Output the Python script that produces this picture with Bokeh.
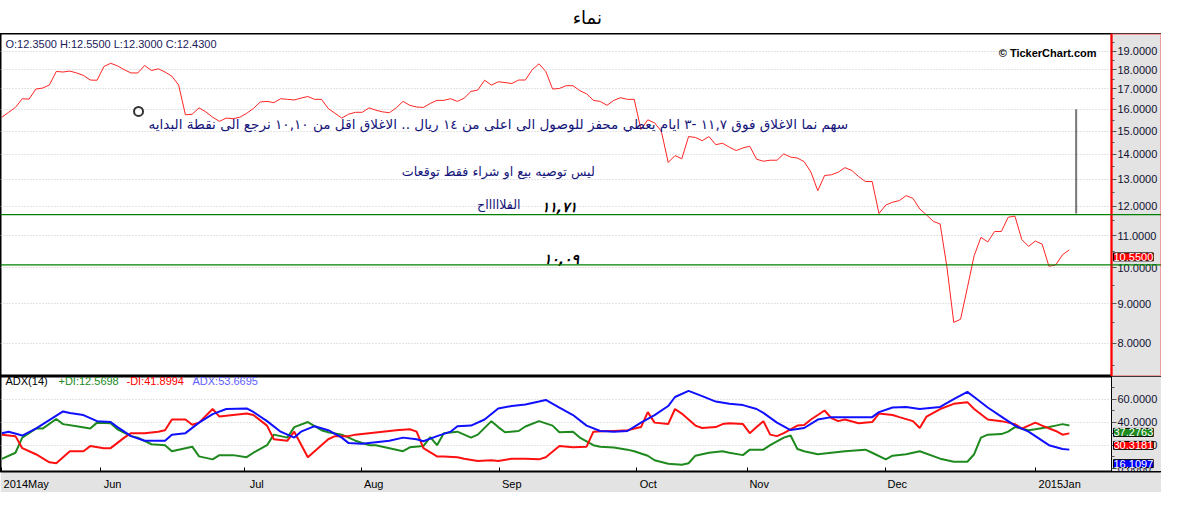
from bokeh.plotting import figure
from bokeh.layouts import column
from bokeh.models import (FixedTicker, Range1d, Label, Span, PrintfTickFormatter, LogAxis,
                          LinearAxis, Grid, BoxAnnotation, LogScale)
from bokeh.core.properties import value
from bokeh.embed import file_html
from bokeh.resources import INLINE

# ---------------- data ----------------
close = [15.63, 15.86, 16.09, 16.51, 16.49, 16.99, 17.04, 17.20, 17.90, 17.87,
         17.92, 17.82, 17.69, 17.45, 17.44, 18.16, 18.34, 18.20, 17.99, 17.82,
         17.82, 18.22, 17.95, 18.04, 17.87, 17.65, 17.19, 15.74, 15.77, 16.07,
         15.88, 15.63, 15.44, 15.59, 15.56, 15.63, 15.81, 16.04, 16.35, 16.38,
         16.32, 16.51, 16.48, 16.45, 16.54, 16.62, 16.48, 16.48, 16.04, 15.81,
         15.59, 15.77, 15.86, 15.86, 16.07, 15.96, 15.88, 15.84, 16.07, 16.38,
         16.19, 16.11, 16.09, 16.28, 16.43, 16.43, 16.51, 16.38, 16.54, 16.87,
         16.94, 17.44, 17.19, 17.36, 17.32, 17.27, 17.45, 17.45, 17.99, 18.31,
         17.90, 16.99, 17.02, 17.16, 17.16, 16.91, 16.75, 16.43, 16.38, 16.19,
         16.43, 16.56, 16.48, 16.48, 15.07, 15.51, 15.37, 14.99, 13.67, 13.95,
         13.82, 14.76, 14.72, 14.58, 14.76, 14.41, 14.47, 14.30, 14.16, 14.27,
         14.34, 13.80, 13.72, 13.76, 13.76, 14.02, 13.89, 13.85, 13.70, 13.28,
         12.57, 13.15, 13.18, 13.28, 13.46, 13.35, 13.11, 12.92, 12.92, 11.75,
         12.05, 12.15, 12.21, 12.39, 12.29, 11.91, 11.70, 11.48, 11.39, 10.02,
         8.51, 8.59, 9.43, 10.37, 10.95, 10.80, 11.14, 11.14, 11.62, 11.66,
         10.88, 10.66, 10.83, 10.73, 10.05, 10.09, 10.40, 10.55]
days = list(range(len(close)))

adx_day = [0, 1, 3, 5, 9, 10, 12, 14, 16, 17, 19, 21, 24, 25, 27, 29, 31, 33, 36, 37,
           39, 41, 43, 44, 46, 48, 50, 51, 53, 55, 57, 59, 61, 62, 64, 66, 67, 69, 71, 73,
           75, 77, 79, 80, 82, 84, 86, 88, 90, 92, 94, 96, 98, 99, 101, 103, 105, 107, 109, 111,
           112, 114, 116, 118, 120, 122, 125, 128, 129, 131, 133, 135, 138, 140, 142, 143, 145,
           147, 149, 151, 152, 154, 156, 157]
adx_val = [30.5, 31.8, 28.4, 34.5, 49.5, 48.1, 46.3, 41.0, 40.2, 35.8, 27.9, 23.9, 23.9,
           29.2, 30.5, 39.7, 47.1, 51.6, 52.1, 49.0, 41.0, 31.8, 26.6, 31.8, 36.6, 33.1,
           26.6, 21.8, 21.3, 22.6, 23.9, 26.6, 25.2, 23.4, 27.9, 31.8, 36.6, 37.1, 42.4,
           52.1, 54.2, 55.5, 58.1, 59.5, 52.9, 46.3, 37.1, 32.4, 31.8, 32.4, 39.7, 46.3,
           54.2, 62.1, 67.4, 62.9, 58.1, 56.1, 55.0, 51.6, 48.2, 39.7, 33.2, 35.0, 42.4,
           44.5, 44.5, 44.5, 48.9, 52.9, 53.4, 51.6, 53.4, 60.3, 66.6, 62.1, 52.9, 45.0,
           37.1, 31.8, 27.9, 20.0, 16.6, 16.1097]

pdi_day = [0, 2, 3, 5, 6, 8, 9, 11, 13, 14, 16, 17, 19, 20, 22, 24, 25, 27, 28, 29,
           31, 32, 34, 36, 37, 39, 40, 42, 43, 45, 47, 48, 50, 52, 54, 55, 57, 59, 60, 62,
           63, 64, 65, 67, 69, 70, 72, 73, 74, 76, 77, 79, 81, 82, 84, 85, 87, 88, 90, 92,
           93, 95, 96, 98, 100, 101, 102, 104, 106, 107, 109, 110, 112, 113, 115, 116, 117,
           118, 120, 122, 124, 127, 128, 130, 131, 133, 135, 138, 140, 142, 143, 144, 145,
           147, 148, 149, 151, 152, 154, 155, 156, 157]
pdi_val = [8.1, 13.4, 26.6, 34.5, 34.5, 42.9, 38.4, 36.6, 34.5, 39.7, 39.2, 33.9, 27.9,
           26.6, 20.8, 20.0, 14.7, 17.4, 18.7, 10.2, 7.6, 11.3, 11.3, 9.5, 13.4, 20.0,
           29.2, 26.6, 35.8, 40.2, 33.1, 31.3, 29.2, 23.9, 20.0, 20.0, 17.4, 14.7, 18.1,
           19.2, 27.1, 20.0, 30.5, 31.8, 26.6, 29.2, 41.0, 35.8, 31.3, 32.4, 36.3, 41.0,
           37.1, 31.3, 31.8, 26.6, 20.0, 18.7, 17.9, 16.1, 14.7, 10.8, 6.8, 3.7, 2.9, 4.2,
           10.8, 13.4, 14.7, 13.4, 11.3, 16.1, 16.1, 20.0, 26.6, 28.4, 16.6, 14.7, 12.1,
           13.4, 14.7, 16.1, 13.4, 7.6, 10.8, 12.1, 14.7, 8.2, 5.5, 5.5, 12.1, 26.6, 29.2,
           29.7, 31.8, 35.8, 33.1, 33.9, 35.8, 37.1, 38.4, 37.2763]

mdi_day = [0, 2, 3, 5, 7, 8, 10, 12, 13, 15, 16, 18, 19, 21, 23, 24, 25, 27, 28, 29,
           31, 32, 34, 36, 37, 39, 40, 42, 43, 45, 47, 48, 49, 51, 52, 54, 56, 58, 60, 61,
           62, 64, 65, 67, 68, 70, 72, 73, 75, 77, 79, 80, 82, 84, 86, 87, 89, 90, 92, 94,
           95, 96, 98, 99, 100, 102, 103, 105, 106, 107, 109, 110, 111, 112, 113, 114, 115,
           117, 118, 119, 121, 122, 123, 124, 126, 128, 129, 131, 132, 134, 135, 136, 138,
           140, 142, 143, 145, 147, 149, 150, 152, 153, 155, 156, 157]
mdi_val = [29.2, 27.9, 17.4, 12.1, 5.0, 4.2, 14.7, 14.7, 19.2, 17.4, 17.4, 26.6, 30.5,
           30.5, 31.8, 33.1, 42.4, 42.4, 37.9, 39.7, 51.6, 45.0, 46.3, 47.6, 46.3, 37.1,
           25.2, 23.9, 31.8, 9.5, 20.0, 25.2, 27.9, 27.9, 29.2, 30.5, 31.8, 33.1, 33.9,
           31.8, 17.4, 10.2, 10.2, 9.5, 8.2, 6.1, 6.8, 6.1, 8.2, 8.2, 7.6, 9.5, 19.2, 18.2,
           18.7, 31.8, 32.4, 32.4, 33.1, 35.8, 48.9, 39.7, 38.4, 51.6, 47.6, 37.1, 35.0,
           35.8, 38.4, 39.2, 38.4, 30.5, 35.8, 41.0, 29.2, 27.9, 30.5, 37.1, 37.6, 42.4,
           50.3, 43.7, 41.0, 42.4, 39.2, 40.2, 47.6, 46.3, 44.5, 41.0, 35.0, 45.0, 51.6,
           56.1, 57.6, 51.6, 42.4, 41.0, 38.4, 34.5, 39.7, 37.1, 32.4, 29.2, 30.3181]

month_pos = [0, 14.5, 35.7, 52.9, 73.2, 93.3, 109.6, 129.9, 152.0]
month_lbl = ["2014May", "Jun", "Jul", "Aug", "Sep", "Oct", "Nov", "Dec", "2015Jan"]

price_ticks = [8, 9, 10, 11, 12, 13, 14, 15, 16, 17, 18, 19]
price_minor = [7.5, 8.5, 9.5, 10.5, 11.5, 12.5, 13.5, 14.5, 15.5, 16.5, 17.5, 18.5, 19.5]
adx_ticks = [0, 20, 40, 60]
adx_minor = [10, 30, 50, 70]

level_hi = 11.71
level_lo = 10.09
marker_day, marker_val = [20.1], [15.9]
vbar_day, vbar_top, vbar_bot = [158], [16.0], [11.75]

notes = ["سهم نما الاغلاق فوق ١١,٧ -٣ ايام يعطي محفز  للوصول الى اعلى من ١٤ ريال .. الاغلاق اقل من ١٠,١٠ نرجع الى نقطة البدايه",
         "ليس توصيه بيع او شراء فقط توقعات",
         "الفلاااااح"]
notes_day = [125.1, 87.2, 76.3]
notes_val = [15.33, 13.32, 12.07]
notes_size = ["13.6px", "12.7px", "12.7px"]
lvl_txt = ["١١,٧١", "١٠,٠٩"]
lvl_day = [84.6, 84.9]
lvl_val = [11.97, 10.28]

header = "O:12.3500  H:12.5500  L:12.3000  C:12.4300"
adx_hdr = ["ADX(14)", "+DI:12.5698", "-DI:41.8994", "ADX:53.6695"]

# ---------------- layout ----------------
W = 1161
AXW = 50                       # width of the right value-axis strip
FW = W - AXW                   # data area width
TITLE_H = 33
PRICE_H = 343
ADX_H = 116
XAX_H = 16
GRAY = "#e3e3e3"
LBL_FONT = "Liberation Sans"
AR_FONT = "DejaVu Sans"

X0, X1 = -0.2, 163.2           # data span of the plotting area
upp = (X1 - X0) / FW           # data units per pixel
AX_X = X1
xr = Range1d(X0, X1 + AXW * upp)

tp = figure(width=W, height=TITLE_H, x_range=(0, 1), y_range=(0, 1), x_axis_type=None,
            y_axis_type=None, toolbar_location=None, output_backend="svg", min_border=0,
            outline_line_color=None)
tp.grid.visible = False
tp.text(x=[0.5 + 21 / W], y=[0.5], text=["نماء"], text_align="right", text_baseline="middle",
        text_font=value(AR_FONT), text_font_size="18px", text_color="black")


def style_value_axis(ax_, line_color, line_width):
    ax_.formatter = PrintfTickFormatter(format="%.4f")
    ax_.axis_line_color = line_color
    ax_.axis_line_width = line_width
    ax_.major_tick_in = 0
    ax_.major_tick_out = 5
    ax_.minor_tick_in = 0
    ax_.minor_tick_out = 3
    ax_.major_tick_line_color = "#555555"
    ax_.minor_tick_line_color = "#555555"
    ax_.major_label_standoff = 1
    ax_.major_label_text_font = LBL_FONT
    ax_.major_label_text_font_size = "11px"
    ax_.major_label_text_color = "#101030"


# ---------- price panel ----------
p = figure(width=W, height=PRICE_H, x_range=xr, y_range=Range1d(7.25, 20.03),
           y_axis_type="log", y_axis_location=None, x_axis_location=None,
           toolbar_location=None, output_backend="svg", min_border=0,
           background_fill_color="white", border_fill_color="white",
           outline_line_color="black", outline_line_width=2)
p.y_scale = LogScale()
for g in list(p.grid):
    g.visible = False
p.add_layout(Grid(dimension=1, ticker=FixedTicker(ticks=price_ticks),
                  grid_line_color="#c8c8c8", grid_line_dash="1 2"))
p.add_layout(BoxAnnotation(left=AX_X, fill_color=GRAY, fill_alpha=1, line_color=None,
                           level="underlay"))
ya = LogAxis(fixed_location=AX_X, ticker=FixedTicker(ticks=price_ticks, minor_ticks=price_minor))
style_value_axis(ya, "red", 2)
p.add_layout(ya, "right")
p.add_layout(BoxAnnotation(left=AX_X, fill_alpha=0, line_color="red", line_width=3,
                           level="overlay"))

p.add_layout(Span(location=level_hi, dimension="width", line_color="#008000", line_width=1.3))
p.add_layout(Span(location=level_lo, dimension="width", line_color="#008000", line_width=1.3))
p.line(days, close, line_color="#ff2424", line_width=1)
p.scatter(marker_day, marker_val, marker="circle", size=9, fill_color=None,
          line_color="#333333", line_width=2)
p.segment(x0=vbar_day, y0=vbar_bot, x1=vbar_day, y1=vbar_top, line_color="#777777", line_width=2)
p.text(x=notes_day, y=notes_val, text=notes, text_align="right", text_baseline="middle",
       text_font=value(AR_FONT), text_font_size=notes_size, text_color="#14147a")
p.text(x=lvl_day, y=lvl_val, text=lvl_txt, text_align="right", text_baseline="middle",
       text_font=value(AR_FONT), text_font_size="14px", text_font_style="bold italic",
       text_color="black")
p.add_layout(Label(x=5, y=PRICE_H - 4, x_units="screen", y_units="screen", text=header,
                   text_font=LBL_FONT, text_font_size="11px", text_color="#1a1a5a",
                   text_baseline="top"))
p.add_layout(Label(x=FW - 15, y=PRICE_H - 13, x_units="screen", y_units="screen",
                   text="© TickerChart.com", text_align="right", text_baseline="top",
                   text_font=LBL_FONT, text_font_size="11px", text_font_style="bold",
                   text_color="black"))
p.add_layout(Label(x=AX_X, y=close[-1], x_offset=2, y_offset=-3,
                   text="%.4f" % close[-1], text_baseline="top",
                   text_font=LBL_FONT, text_font_size="11px", text_color="white",
                   background_fill_color="red", border_line_color="black"))

# ---------- ADX panel ----------
a = figure(width=W, height=ADX_H, x_range=xr, y_range=Range1d(-3, 80),
           y_axis_location=None, toolbar_location=None, output_backend="svg",
           min_border_left=0, min_border_top=0, min_border_right=0,
           min_border_bottom=XAX_H, border_fill_color=GRAY, background_fill_color="white",
           outline_line_color="black", outline_line_width=2)
a.xgrid.visible = False
for g in list(a.ygrid):
    g.visible = False
a.add_layout(Grid(dimension=1, ticker=FixedTicker(ticks=[20, 40, 60]),
                  grid_line_color="#c8c8c8", grid_line_dash="1 2"))
a.add_layout(BoxAnnotation(left=AX_X, fill_color=GRAY, fill_alpha=1, line_color=None,
                           level="underlay"))
ay = LinearAxis(fixed_location=AX_X, ticker=FixedTicker(ticks=adx_ticks, minor_ticks=adx_minor))
style_value_axis(ay, "black", 1)
a.add_layout(ay, "right")

# x axis: tick marks at month starts, labels set to the right of each tick
ax = a.xaxis[0]
ax.ticker = FixedTicker(ticks=month_pos)
ax.major_label_overrides = {m: "" for m in month_pos}
ax.major_label_text_font_size = "1px"
ax.major_label_standoff = 0
ax.major_tick_in = 4
ax.major_tick_out = 0
ax.minor_tick_line_color = None
ax.axis_line_color = "black"

lbl_pos = [m + (len(l) * 6.1 / 2 + 3) * upp for m, l in zip(month_pos, month_lbl)]
ax2 = LinearAxis(ticker=FixedTicker(ticks=lbl_pos),
                 major_label_overrides={q: l for q, l in zip(lbl_pos, month_lbl)},
                 axis_line_color=None, major_tick_line_color=None, minor_tick_line_color=None,
                 major_label_standoff=0, major_label_text_font=LBL_FONT,
                 major_label_text_font_size="11px", major_label_text_color="black")
a.add_layout(ax2, "below")

a.line(pdi_day, pdi_val, line_color="#1e8a1e", line_width=2)
a.line(mdi_day, mdi_val, line_color="#ff1010", line_width=2)
a.line(adx_day, adx_val, line_color="#1010ff", line_width=2)

FH = ADX_H - XAX_H
hdr_x = [5, 58, 126, 192]
hdr_c = ["black", "#1e8a1e", "red", "#6060ff"]
for t, xx, c in zip(adx_hdr, hdr_x, hdr_c):
    a.add_layout(Label(x=xx, y=FH - 3, x_units="screen", y_units="screen", text=t,
                       text_font=LBL_FONT, text_font_size="11px", text_color=c,
                       text_baseline="top"))
# value badges stacked below each series' last value
for v, c, off in [(pdi_val[-1], "#1e8a1e", -3), (mdi_val[-1], "red", -8),
                  (adx_val[-1], "blue", -10)]:
    a.add_layout(Label(x=AX_X, y=v, x_offset=2, y_offset=off, text="%.4f" % v,
                       text_baseline="top", text_font=LBL_FONT,
                       text_font_size="11px", text_color="white",
                       background_fill_color=c, border_line_color="black"))

layout = column(tp, p, a, spacing=0)
open("out.html", "w").write(file_html(layout, INLINE))
